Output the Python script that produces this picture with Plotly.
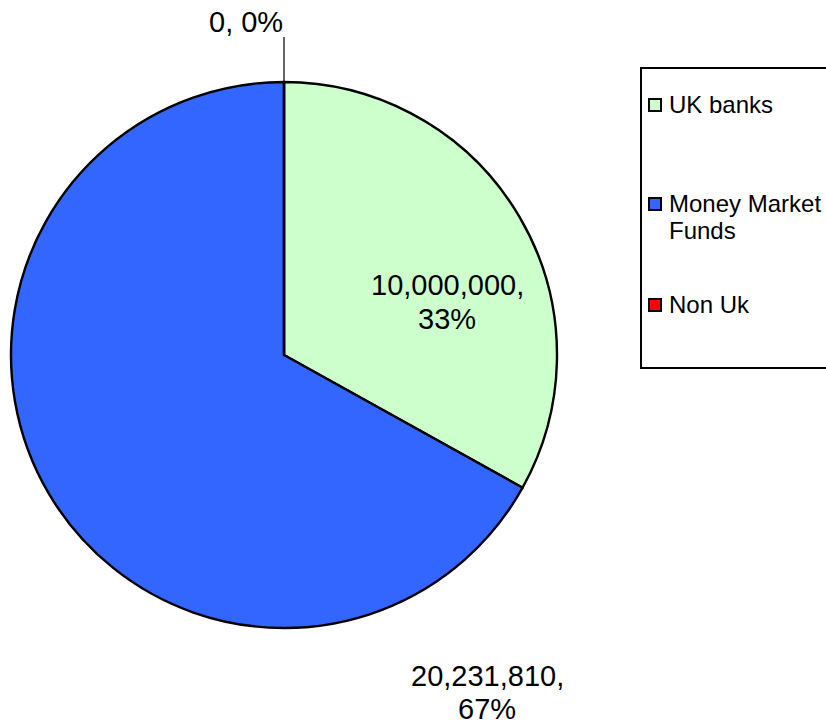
import plotly.graph_objects as go

# Portfolio split by counterparty type
labels = ["UK banks", "Money Market Funds", "Non Uk"]
legend_lines = [["UK banks"], ["Money Market", "Funds"], ["Non Uk"]]
values = [10000000, 20231810, 0]
colors = ["#CCFFCC", "#3366FF", "#FF0000"]

W, H = 826, 726
FONT = "Liberation Sans, Arial, sans-serif"


def px(x):
    return x / W


def py(y):
    return 1 - y / H


total = sum(values)
pct = [round(100 * v / total) for v in values]
label_lines = [[f"{v:,},", f"{p}%"] for v, p in zip(values, pct)]

fig = go.Figure(
    go.Pie(
        labels=labels,
        values=values,
        sort=False,
        direction="clockwise",
        rotation=0,
        marker=dict(colors=colors, line=dict(color="black", width=2.4)),
        textinfo="none",
        hoverinfo="label+value+percent",
        showlegend=False,
        domain=dict(x=[px(11), px(557)], y=[py(628), py(82)]),
    )
)

annotations = []
shapes = []


def add_text(x, y, txt, size, xanchor="center"):
    annotations.append(dict(x=px(x), y=py(y), xref="paper", yref="paper",
                            text=txt, showarrow=False, xanchor=xanchor,
                            yanchor="middle",
                            font=dict(family=FONT, size=size, color="black")))


# Data labels, one line at a time
label_pos = [(447, 285, 34), (487, 676, 33)]
for (x, y, gap), lines in zip(label_pos, label_lines[:2]):
    for i, line in enumerate(lines):
        add_text(x, y + i * gap, line, 29)

# Zero-value slice label with leader line
add_text(246, 22, f"{values[2]:,}, {pct[2]}%", 29)
shapes.append(dict(type="line", xref="paper", yref="paper",
                   x0=px(284), x1=px(284), y0=py(37), y1=py(83),
                   line=dict(color="black", width=1.2)))

# Legend box
shapes.append(dict(type="rect", xref="paper", yref="paper",
                   x0=px(641), x1=px(830), y0=py(368), y1=py(68),
                   line=dict(color="black", width=2), fillcolor="white",
                   layer="below"))

item_y = [105, 204, 305]
for lines, col, yc in zip(legend_lines, colors, item_y):
    shapes.append(dict(type="rect", xref="paper", yref="paper",
                       x0=px(649), x1=px(661), y0=py(yc + 6), y1=py(yc - 6),
                       line=dict(color="black", width=2), fillcolor=col))
    for i, line in enumerate(lines):
        add_text(667, yc - 1 + i * 28, line, 24, xanchor="left")

fig.update_layout(
    width=W, height=H,
    margin=dict(l=0, r=0, t=0, b=0),
    paper_bgcolor="white", plot_bgcolor="white",
    annotations=annotations, shapes=shapes,
)

fig.write_html("out.html")
